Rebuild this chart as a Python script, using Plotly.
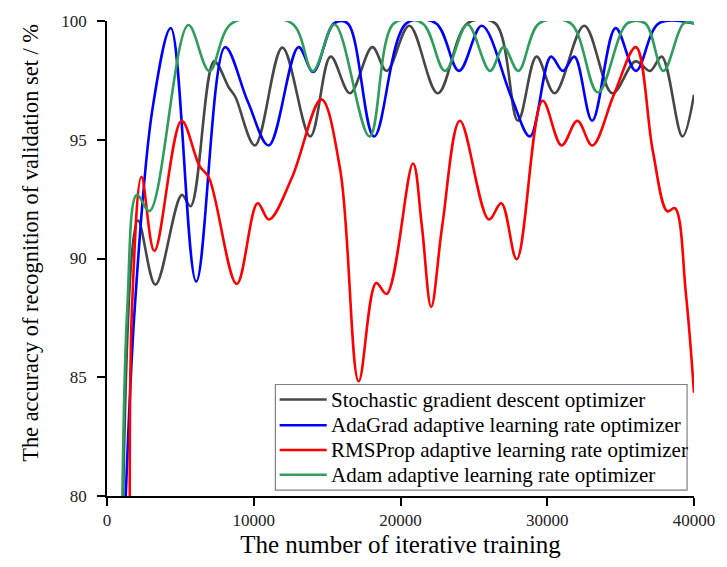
import plotly.graph_objects as go

# ---- data ----
sgd_x = [1100, 2110, 3300, 5100, 5700, 7300, 8300, 8750, 10080, 11950, 13850, 15240, 16560,
         18080, 19060, 20600, 22540, 24560, 26460, 28000, 29270, 30500, 32520, 34430, 36010,
         37010, 37800, 39210, 40000]
sgd_y = [80, 91.6, 88.9, 92.68, 92.2, 98.3, 97.2, 96.8, 94.76, 98.88, 95.14, 98.5, 96.96,
         98.9, 97.9, 99.8, 96.96, 99.9, 99.9, 95.8, 98.5, 96.96, 99.8, 96.96, 98.3,
         97.9, 98.5, 95.14, 96.9]

ada_x = [1280, 1900, 3100, 4350, 6080, 8050, 9600, 11020, 13050, 14050, 15470, 16400, 18200,
         20400, 22420, 23990, 25540, 27550, 28820, 30250, 31060, 31850, 33060, 34660, 36040,
         37600, 40000]
ada_y = [80, 88, 96.3, 99.7, 89.03, 98.9, 96.6, 94.76, 98.9, 97.85, 99.9, 99.9, 95.14,
         99.9, 99.9, 97.9, 99.8, 96.8, 95.14, 98.5, 97.9, 98.5, 95.8, 99.7, 97.9,
         99.9, 99.9]

rms_x = [1550, 1710, 2350, 3230, 5080, 6300, 6950, 8840, 10260, 11040, 12600, 14600, 15900,
         17150, 18340, 19060, 20850, 21450, 22090, 22850, 24050, 26020, 26870, 27920, 29680,
         30980, 32050, 33070, 34540, 36040, 37200, 38180, 38700, 39450, 40000]
rms_y = [80, 88, 93.44, 90.32, 95.8, 93.9, 93.4, 88.93, 92.33, 91.64, 93.4, 96.7, 93.7,
         84.83, 88.97, 88.51, 94.0, 91.4, 87.96, 91.4, 95.8, 91.64, 92.33, 89.97, 96.64,
         94.76, 95.8, 94.76, 96.9, 98.9, 94.5, 91.99, 92.12, 88.5, 84.35]

adam_x = [1050, 1390, 2040, 2900, 5540, 6980, 8500, 12600, 14020, 15500, 17890, 19550, 21500,
          23030, 24560, 26100, 27030, 28030, 29450, 31600, 33450, 35450, 36680, 37910, 39300,
          40000]
adam_y = [80, 88, 92.68, 92.0, 99.83, 97.89, 99.9, 99.9, 97.89, 99.85, 95.14, 99.9, 99.9,
          97.9, 99.85, 97.9, 98.9, 97.9, 99.9, 99.9, 96.99, 99.9, 99.9, 97.9, 99.9,
          99.9]

names = ["Stochastic gradient descent optimizer",
         "AdaGrad adaptive learning rate optimizer",
         "RMSProp adaptive learning rate optimizer",
         "Adam adaptive learning rate optimizer"]
colors = ["#474747", "#0000ff", "#ff0000", "#2f9e5c"]

x_ticks = [0, 10000, 20000, 30000, 40000]
y_ticks = [80, 85, 90, 95, 100]

x_title = "The number of iterative training"
y_title = "The accuracy of recognition of validation set / %"

FONT = "Times New Roman, Liberation Serif, serif"

fig = go.Figure()
for xs, ys, n, c in zip([sgd_x, ada_x, rms_x, adam_x], [sgd_y, ada_y, rms_y, adam_y], names, colors):
    fig.add_trace(go.Scatter(x=xs, y=ys, mode="lines", name=n, showlegend=False,
                             line=dict(color=c, width=2.6, shape="spline", smoothing=1.0)))

axis_common = dict(showline=True, linecolor="black", linewidth=1.6, ticks="outside",
                   ticklen=8, tickwidth=1.6, tickcolor="black", showgrid=False, zeroline=False,
                   tickfont=dict(family=FONT, size=17, color="#222"), mirror=False)

fig.update_layout(
    width=727, height=567,
    margin=dict(l=107, r=26, t=16, b=71),
    paper_bgcolor="white", plot_bgcolor="white",
    font=dict(family=FONT, color="black"),
    xaxis=dict(range=[0, 40000], tickvals=x_ticks, tickformat="d",
               title=dict(text=x_title, font=dict(family=FONT, size=25), standoff=6),
               **axis_common),
    yaxis=dict(range=[80, 100], tickvals=y_ticks, ticklabelstandoff=7, **axis_common),
    showlegend=False,
)

# y-axis title as annotation (placed slightly above centre, as in the reference)
fig.add_annotation(text=y_title, textangle=-90, xref="paper", yref="paper",
                   x=-0.1296, y=0.533, xanchor="center", yanchor="middle", showarrow=False,
                   font=dict(family=FONT, size=22.4, color="black"))

# ---- legend box drawn in paper coordinates ----
box_x0, box_x1, box_y0, box_y1 = 0.2869, 0.9882, 0.0125, 0.2347
fig.add_shape(type="rect", xref="paper", yref="paper", x0=box_x0, x1=box_x1, y0=box_y0, y1=box_y1,
              line=dict(color="#808080", width=1.2), fillcolor="white", layer="above")
row_y = [0.2031, 0.1490, 0.0969, 0.0448]
for n, c, ry in zip(names, colors, row_y):
    fig.add_shape(type="line", xref="paper", yref="paper", x0=0.2941, x1=0.3743, y0=ry, y1=ry,
                  line=dict(color=c, width=2.6), layer="above")
    fig.add_annotation(text=n, xref="paper", yref="paper", x=0.3790, y=ry, xanchor="left",
                       yanchor="middle", showarrow=False,
                       font=dict(family=FONT, size=21, color="black"))

fig.write_html("out.html")
